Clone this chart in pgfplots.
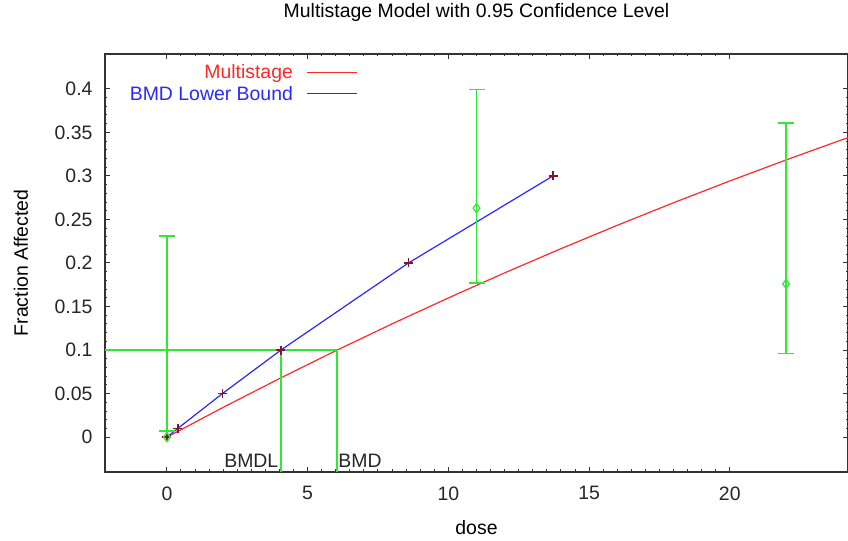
\documentclass[border=0pt]{standalone}
\usepackage{pgfplots}
\pgfplotsset{compat=1.18}
\usepackage{fontspec}
\setmainfont{Liberation Sans}

\definecolor{bmdgreen}{RGB}{51,232,51}
\definecolor{msred}{RGB}{255,40,40}
\definecolor{lbblue}{RGB}{40,40,255}
\definecolor{ptmaroon}{RGB}{130,20,45}

\pgfplotsset{
  legend image code/.code={\path (0bp,0bp); \draw[#1, line width=1.3bp] (12bp,0bp) -- (62bp,0bp);},
}

\begin{document}
\begin{tikzpicture}
\begin{axis}[
  scale only axis,
  width=743bp, height=418bp,
  xmin=-2.2, xmax=24.2,
  ymin=-0.04, ymax=0.44,
  axis line style={black!80, line width=1.6bp},
  xtick={0,5,10,15,20},
  xticklabels={0,5,10,15,20},
  ytick={0,0.05,0.1,0.15,0.2,0.25,0.3,0.35,0.4},
  yticklabels={0,0.05,0.1,0.15,0.2,0.25,0.3,0.35,0.4},
  minor x tick num=9, minor y tick num=4,
  tick align=inside,
  major tick length=5bp, minor tick length=2.5bp,
  every tick/.style={black!80, line width=1bp},
  /pgf/number format/assume math mode=true,
  tick label style={font=\fontsize{19.5}{22}\selectfont, black!85},
  xticklabel style={yshift=-11bp},
  yticklabel style={xshift=-9bp},
  title={Multistage Model with 0.95 Confidence Level},
  title style={font=\fontsize{19.5}{22}\selectfont, at={(axis description cs:0.5,1.086)}, anchor=center},
  xlabel={dose},
  xlabel style={font=\fontsize{19.5}{22}\selectfont, at={(axis description cs:0.5,-0.134)}, anchor=center},
  ylabel={Fraction Affected},
  ylabel style={font=\fontsize{19.5}{22}\selectfont, at={(axis description cs:-0.113,0.5)}, anchor=center, rotate=0},
  legend style={draw=none, fill=none, at={(axis description cs:0.345,0.985)}, anchor=north east,
    font=\fontsize{19.5}{22}\selectfont, row sep=2bp},
  legend plot pos=right,
  legend cell align=right,
]

% fitted multistage curve
\addplot[msred, line width=1.2bp] coordinates {
  (0,0) (2,0.03424) (4,0.06731) (6,0.09925) (8,0.13009) (10,0.15987)
  (12,0.18864) (14,0.21642) (16,0.24325) (18,0.26916) (20,0.29419)
  (22,0.31836) (24.2,0.34399)
};
\addlegendentry{\textcolor{msred}{Multistage}}

% lower bound curve
\addplot[lbblue, line width=1.2bp] coordinates {
  (0,0) (0.387,0.01) (1.97,0.05) (4.05,0.1) (8.58,0.2) (13.72,0.3)
};
\addlegendentry{\textcolor{lbblue}{BMD Lower Bound}}

\addplot[only marks, mark=+, mark size=4.5bp, ptmaroon, line width=1.5bp, forget plot] coordinates {
  (0,0) (0.387,0.01) (1.97,0.05) (4.05,0.1) (8.58,0.2) (13.72,0.3)
};

% BMD / BMDL guide lines
\addplot[bmdgreen, line width=1.6bp, forget plot] coordinates {(-2.2,0.1) (6.05,0.1)};
\addplot[bmdgreen, line width=1.6bp, forget plot] coordinates {(4.05,0.1) (4.05,-0.04)};
\addplot[bmdgreen, line width=1.6bp, forget plot] coordinates {(6.05,0.1) (6.05,-0.04)};

% observed data with confidence limits
\addplot[forget plot, bmdgreen, line width=1.6bp, only marks, mark=diamond, mark size=4.5bp,
  mark options={line width=1.3bp},
  error bars/.cd, y dir=both, y explicit,
  error mark options={bmdgreen, line width=1.6bp, mark size=8bp, rotate=90},
  error bar style={bmdgreen, line width=1.6bp}]
  coordinates {
  (0,0) += (0,0.231) -= (0,-0.007)
  (11,0.263) += (0,0.136) -= (0,0.086)
  (22,0.176) += (0,0.185) -= (0,0.080)
};

\node[anchor=south east, inner sep=1bp, font=\fontsize{19.5}{22}\selectfont, black!85]
  at (axis cs:4.0,-0.036) {BMDL};
\node[anchor=south west, inner sep=1bp, font=\fontsize{19.5}{22}\selectfont, black!85]
  at (axis cs:6.05,-0.036) {BMD};

\coordinate (bl) at (rel axis cs:0,0);
\coordinate (tr) at (rel axis cs:1,1);
\end{axis}
\pgfresetboundingbox
\path ([shift={(-105bp,-69bp)}]bl) rectangle ([shift={(0bp,54bp)}]tr);
\end{tikzpicture}
\end{document}
